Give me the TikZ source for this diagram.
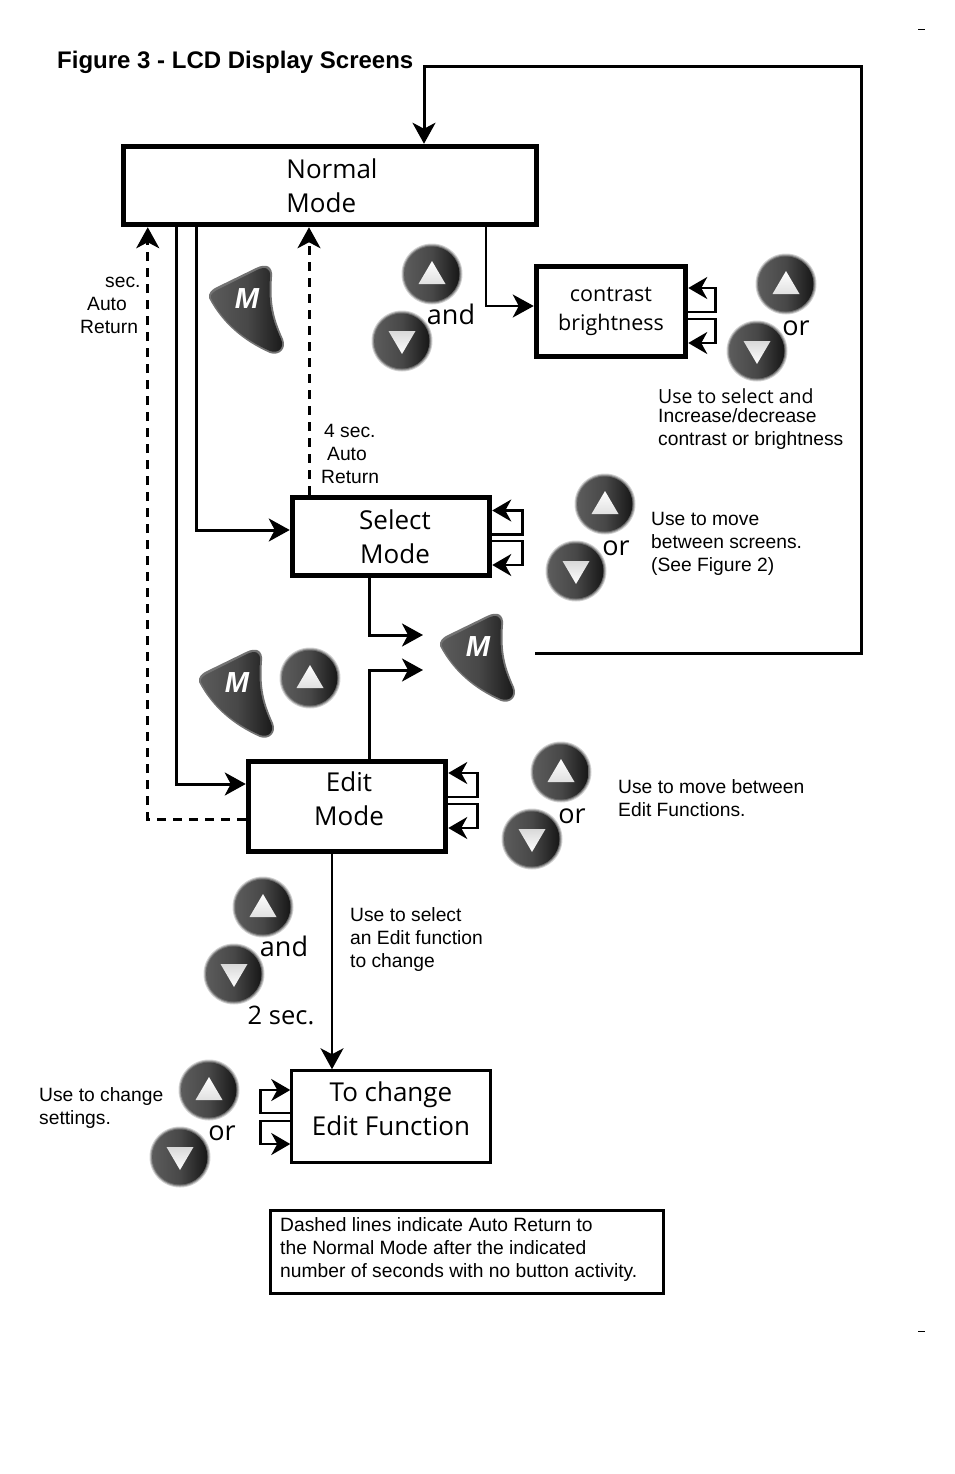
\documentclass[tikz,border=0pt]{standalone}
\usepackage{fontspec}
\setmainfont{Liberation Sans}
\newfontfamily\labelfont{Open Sans}
\usetikzlibrary{arrows.meta,shapes.geometric}
\definecolor{btnmid}{gray}{0.28}
\definecolor{btnlight}{gray}{0.36}
\definecolor{btndark}{gray}{0.09}
\tikzset{
  x=1pt,y=-1pt,
  box/.style={draw=black,line width=#1,fill=white,inner sep=0pt,align=center,font=\labelfont\fontsize{26}{34}\selectfont},
  box/.default=5pt,
  sidenote/.style={anchor=north west,inner sep=0pt,align=left,font=\fontsize{19.25}{23}\selectfont},
  keyword/.style={inner sep=0pt,font=\labelfont\fontsize{27}{30}\selectfont},
  flow/.style={draw=black,line width=#1,-{Stealth[length=21pt,width=23pt,inset=6pt]}},
  flow/.default=3pt,
  loopback/.style={draw=black,line width=2.5pt,-{Stealth[length=19pt,width=22pt,inset=6pt]}},
  autoreturn/.style={flow=3pt,dash pattern=on 9pt off 7pt},
  pics/roundbase/.style={code={
    % soft rim under the dark face of a round button
    \fill[black!18] (0,0) circle[radius=30.5];
    \fill[black!38] (0,0) circle[radius=29.5];
    \fill[black!58] (0,0) circle[radius=28.5];
    \shade[left color=btnlight,right color=btndark,middle color=btnmid] (0,0) circle[radius=27.5];
  }},
  pics/upbtn/.style={code={
    \pic {roundbase};
    \shade[top color=white,bottom color=white!88!black] (-13.5,10) -- (0,-13) -- (13.5,10) -- cycle;
  }},
  pics/downbtn/.style={code={
    \pic {roundbase};
    \shade[top color=white!85!black,bottom color=white] (-13.5,-10) -- (0,13) -- (13.5,-10) -- cycle;
  }},
  pics/modebtn/.style={code={
    \fill[black!55] (-37,-11) .. controls (-38,-16) and (-34,-19) .. (-31,-21)
      -- (10,-41) .. controls (20,-46) and (27,-43) .. (26,-32)
      .. controls (24,-5) and (28,10) .. (37,30)
      .. controls (41,40) and (33,47) .. (24,44)
      .. controls (-3,32) and (-24,14) .. (-37,-11) -- cycle;
    \shade[left color=btnlight,right color=btndark,middle color=btnmid]
      (-35,-11) .. controls (-36,-15) and (-32,-17) .. (-29,-19)
      -- (11,-39) .. controls (19,-43) and (25,-41) .. (24,-32)
      .. controls (22,-5) and (26,10) .. (35,30)
      .. controls (39,39) and (32,45) .. (24,42)
      .. controls (-3,30) and (-23,13) .. (-35,-11) -- cycle;
    \node[inner sep=0pt,text=white,font=\fontsize{29}{29}\selectfont\bfseries\itshape] at (1,-10) {M};
  }},
}
\begin{document}
\begin{tikzpicture}
\useasboundingbox (0,0) rectangle (954,1474);

% printer's trim marks
\coordinate (trimAa) at (918,30); \coordinate (trimAb) at (925,30);
\coordinate (trimBa) at (918,1331); \coordinate (trimBb) at (925,1331);
\draw[line width=1pt] (trimAa) -- (trimAb);
\draw[line width=1pt] (trimBa) -- (trimBb);

\node[anchor=base west,inner sep=0pt,font=\fontsize{24}{28}\selectfont\bfseries] (title) at (57,69) {Figure 3 - LCD Display Screens};

% display screens
\node[box,align=left,minimum width=413.5pt,minimum height=78.5pt] (normal) at (330,185.5) {\hspace*{4pt}Normal\\\hspace*{4pt}Mode};
\node[box,minimum width=149.5pt,minimum height=90.5pt,font=\labelfont\fontsize{21.5}{29}\selectfont] (contrast) at (611,311.5) {contrast\\brightness};
\node[box,minimum width=197.5pt,minimum height=78.5pt] (select) at (391,536.5) {\hspace*{8pt}Select\\\hspace*{8pt}Mode};
\node[box,minimum width=197.5pt,minimum height=90.5pt,text depth=16pt] (edit) at (347,806.5) {\hspace*{4pt}Edit\\\hspace*{4pt}Mode};
\node[box=2.5pt,minimum width=199pt,minimum height=92pt,text depth=16pt] (change) at (391,1116.5) {To change\\Edit Function};
\node[draw=black,line width=2.5pt,minimum width=393pt,minimum height=83pt,inner sep=0pt,align=left,font=\fontsize{19.25}{23}\selectfont,text depth=9pt] (legend) at (467,1252)
  {\hspace*{-16.5pt}Dashed lines indicate Auto Return to\\\hspace*{-16.5pt}the Normal Mode after the indicated\\\hspace*{-16.5pt}number of seconds with no button activity.};

% buttons
\pic at (246,309) {modebtn};
\pic at (432,274) {upbtn};
\pic at (402,341) {downbtn};
\pic at (786,284) {upbtn};
\pic at (757,351) {downbtn};
\pic at (605,504) {upbtn};
\pic at (576,571) {downbtn};
\pic at (477,657) {modebtn};
\pic at (236,693) {modebtn};
\pic at (310,678) {upbtn};
\pic at (561,772) {upbtn};
\pic at (532,839) {downbtn};
\pic at (263,907) {upbtn};
\pic at (234,974) {downbtn};
\pic at (209,1090) {upbtn};
\pic at (180,1157) {downbtn};

% words beside the buttons
\node[keyword] (and1) at (451,314) {and};
\node[keyword] (or1) at (796,328) {or};
\node[keyword] (or2) at (616,548) {or};
\node[keyword] (or3) at (572,816) {or};
\node[keyword] (and2) at (284,946) {and};
\node[keyword,font=\labelfont\fontsize{25.5}{30}\selectfont] (twosec) at (281,1015) {2 sec.};
\node[keyword] (or4) at (222,1133) {or};

% explanatory notes
\node[sidenote] (n1) at (80,277) {\hspace*{25pt}sec.\\\hspace*{7pt}Auto\\Return};
\node[sidenote] (n2) at (321,424) {\hspace*{3pt}4 sec.\\\hspace*{6pt}Auto\\Return};
\node[sidenote] (n3) at (658,388) {{\labelfont\fontsize{19.5}{23}\selectfont Use to select and}\\[-4pt]Increase/decrease\\contrast or brightness};
\node[sidenote] (n4) at (651,512) {Use to move\\between screens.\\(See Figure 2)};
\node[sidenote] (n5) at (618,779) {Use to move between\\Edit Functions.};
\node[sidenote] (n6) at (350,907) {Use to select\\an Edit function\\to change};
\node[sidenote] (n7) at (39,1087) {Use to change\\settings.};

% free ends next to the Mode button
\coordinate (mleft) at (535,653);
\coordinate (mupper) at (423,635);
\coordinate (mlower) at (423,670);
\coordinate (topright) at (861,67);
\coordinate (bottomright) at (861,653);

% solid transitions
\draw[flow=3pt] (mleft) -- (bottomright) -- (topright) -- ([xshift=94pt]normal.north |- topright) -- ([xshift=94pt]normal.north);
\draw[flow] ([xshift=76pt]normal.south west) |- ([yshift=6.5pt]select.west);
\draw[flow] ([xshift=56pt]normal.south west) |- ([yshift=22.5pt]edit.west);
\draw[flow=2pt] ([xshift=365pt]normal.south west) |- ([yshift=5.5pt]contrast.west);
\draw[flow] ([xshift=-22pt]select.south) |- (mupper);
\draw[flow] ([xshift=22pt]edit.north) |- (mlower);
\draw[flow=2pt] ([xshift=-15pt]edit.south) -- ([xshift=-59pt]change.north);

% automatic returns
\draw[autoreturn] ([yshift=-12.5pt]edit.west) -| ([xshift=27pt]normal.south west);
\draw[autoreturn] ([xshift=-82pt]select.north) -- ([xshift=-21pt]normal.south);

% loops on the screens that stay put
\foreach \boxname/\upper/\lower/\reach in {contrast/23.5/-7.5/27, select/26/-4.5/30, edit/33.5/2.5/29}{
  \draw[loopback] ([yshift=\upper pt-24pt]\boxname.east) -- ++(\reach,0) |- ([yshift=\upper pt]\boxname.east);
  \draw[loopback] ([yshift=\lower pt]\boxname.east) -- ++(\reach,0) |- ([yshift=\lower pt-24pt]\boxname.east);
}
\draw[loopback] ([yshift=3.5pt]change.west) -- ++(-30,0) |- ([yshift=26.5pt]change.west);
\draw[loopback] ([yshift=-4.5pt]change.west) -- ++(-30,0) |- ([yshift=-27.5pt]change.west);
\end{tikzpicture}
\end{document}
